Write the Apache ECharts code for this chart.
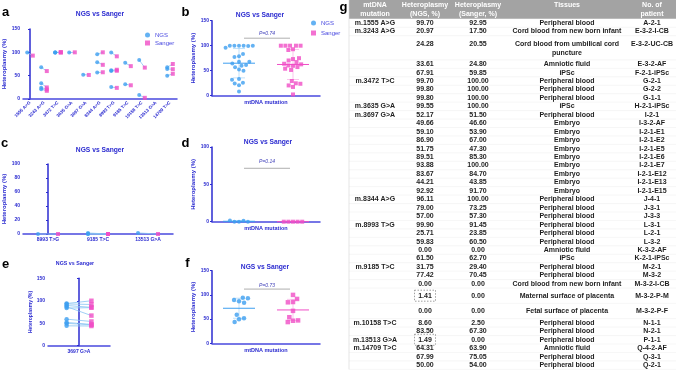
<!DOCTYPE html>
<html>
<head>
<meta charset="utf-8">
<script src="https://cdn.jsdelivr.net/npm/echarts@6/dist/echarts.min.js"></script>
<style>
html, body { margin: 0; padding: 0; background: #fff; }
#chart { width: 676px; height: 371px; }
</style>
</head>
<body>
<div id="chart"></div>
<script>
// ---- data ----
// panel a: paired NGS / Sanger per mutation
const mutationCats = ['1555 A>G', '3243 A>G', '3472 T>C', '3635 G>A', '3697 G>A', '8344 A>G',
  '8993 T>G', '9185 T>C', '10158 T>C', '13513 G>A', '14709 T>C'];
const ngsA = [[99.70], [20.97, 24.28, 33.61, 67.91], [99.70, 99.80, 99.80], [99.55], [52.17],
  [96.11, 79.00, 57.00], [99.90, 25.71, 59.83, 61.50], [31.75, 77.42], [8.60, 83.50], [],
  [64.31, 67.99, 50.00]];
const sangerA = [[92.95], [17.50, 20.55, 24.80, 59.85], [100, 100, 100], [100], [51.50],
  [100, 73.25, 57.30], [91.45, 23.85, 60.50, 62.70], [29.40, 70.45], [2.50, 67.30], [],
  [63.90, 75.05, 54.00]];

// panel c / d: low heteroplasmy samples
const lowCats = ['8993 T>G', '9185 T>C', '13513 G>A'];
const ngsC = [[0], [0, 1.41, 0], [1.49]];
const sangerC = [[0], [0, 0, 0], [0]];

// panel e / f: embryos of m.3697 G>A
const embryoCat = ['3697 G>A'];
const ngsE = [49.66, 59.10, 86.90, 51.75, 89.51, 93.88, 83.67, 44.21, 92.92];
const sangerE = [46.60, 53.90, 67.00, 47.30, 85.30, 100.00, 84.70, 43.85, 91.70];

const pB = 'P=0.74', pD = 'P=0.14', pF = 'P=0.73';

// panel g: table
const tblHeader = ['mtDNA\nmutation', 'Heteroplasmy\n(NGS, %)', 'Heteroplasmy\n(Sanger, %)', 'Tissues', 'No. of\npatient'];
const tblMutation = ['m.1555 A>G', 'm.3243 A>G', '', '', '', 'm.3472 T>C', '', '', 'm.3635 G>A', 'm.3697 G>A',
  '', '', '', '', '', '', '', '', '', 'm.8344 A>G', '', '', 'm.8993 T>G', '', '', '', '', 'm.9185 T>C',
  '', '', '', '', 'm.10158 T>C', '', 'm.13513 G>A', 'm.14709 T>C', '', ''];
const tblNGS = ['99.70', '20.97', '24.28', '33.61', '67.91', '99.70', '99.80', '99.80', '99.55', '52.17',
  '49.66', '59.10', '86.90', '51.75', '89.51', '93.88', '83.67', '44.21', '92.92', '96.11', '79.00', '57.00',
  '99.90', '25.71', '59.83', '0.00', '61.50', '31.75', '77.42', '0.00', '1.41', '0.00', '8.60', '83.50',
  '1.49', '64.31', '67.99', '50.00'];
const tblSanger = ['92.95', '17.50', '20.55', '24.80', '59.85', '100.00', '100.00', '100.00', '100.00', '51.50',
  '46.60', '53.90', '67.00', '47.30', '85.30', '100.00', '84.70', '43.85', '91.70', '100.00', '73.25', '57.30',
  '91.45', '23.85', '60.50', '0.00', '62.70', '29.40', '70.45', '0.00', '0.00', '0.00', '2.50', '67.30',
  '0.00', '63.90', '75.05', '54.00'];
const PB = 'Peripheral blood', EM = 'Embryo';
const tblTissue = [PB, 'Cord blood from new born infant', 'Cord blood from umbilical cord\npuncture',
  'Amniotic fluid', 'iPSc', PB, PB, PB, 'iPSc', PB, EM, EM, EM, EM, EM, EM, EM, EM, EM, PB, PB, PB,
  PB, PB, PB, 'Amniotic fluid', 'iPSc', PB, PB, 'Cord blood from new born infant',
  'Maternal surface of placenta', 'Fetal surface of placenta', PB, PB, PB, 'Amniotic fluid', PB, PB];
const tblPatient = ['A-2-1', 'E-3-2-I-CB', 'E-3-2-UC-CB', 'E-3-2-AF', 'F-2-1-iPSc', 'G-2-1', 'G-2-2', 'G-1-1',
  'H-2-1-iPSc', 'I-2-1', 'I-3-2-AF', 'I-2-1-E1', 'I-2-1-E2', 'I-2-1-E5', 'I-2-1-E6', 'I-2-1-E7', 'I-2-1-E12',
  'I-2-1-E13', 'I-2-1-E15', 'J-4-1', 'J-3-1', 'J-3-3', 'L-3-1', 'L-2-1', 'L-3-2', 'K-3-2-AF', 'K-2-1-iPSc',
  'M-2-1', 'M-3-2', 'M-3-2-I-CB', 'M-3-2-P-M', 'M-3-2-P-F', 'N-1-1', 'N-2-1', 'P-1-1', 'Q-4-2-AF', 'Q-3-1', 'Q-2-1'];

// ---- styles ----
const FONT = '"Liberation Sans", Arial, sans-serif';
const AX = '#2b2bd0';
const AX_X = '#4a4ade';
const NGS_C = '#3d9ff0';
const SAN_C = '#f04ec6';
const PAIR_C = '#88c4f2';
const OFF = 0.2; // offset of the two points inside a category band

const chart = echarts.init(document.getElementById('chart'), null, { renderer: 'canvas' });

const grids = [], xAxes = [], yAxes = [], series = [], graphics = [];

function addGrid(left, top, width, height) {
  grids.push({ left, top, width, height, containLabel: false });
  return grids.length - 1;
}

function yAxis(g, max, interval, nameGap, nameSize) {
  yAxes.push({
    type: 'value', gridIndex: g, min: 0, max, interval,
    name: 'Heteroplasmy (%)', nameLocation: 'middle', nameGap,
    nameTextStyle: { color: AX, fontWeight: 'bold', fontSize: nameSize, fontFamily: FONT },
    axisLine: { show: true, lineStyle: { color: AX, width: 1.5 } },
    axisTick: { show: true, length: 2, lineStyle: { color: AX, width: 1 } },
    splitLine: { show: false },
    axisLabel: { color: AX, fontSize: 5, fontWeight: 'bold', margin: 3, fontFamily: FONT }
  });
  return yAxes.length - 1;
}

function xCat(g, data, extra) {
  xAxes.push(Object.assign({
    type: 'category', gridIndex: g, data, boundaryGap: true, position: 'bottom',
    axisLine: { lineStyle: { color: AX_X, width: 1.5 } },
    axisTick: { alignWithLabel: true, length: 2, lineStyle: { color: AX_X, width: 1 } },
    axisLabel: { color: AX, fontSize: 5, fontWeight: 'bold', margin: 3, interval: 0, fontFamily: FONT },
    splitLine: { show: false }
  }, extra || {}));
  return xAxes.length - 1;
}

function xHiddenValue(g, n) {
  xAxes.push({ type: 'value', gridIndex: g, min: -0.5, max: n - 0.5, show: false });
  return xAxes.length - 1;
}

function xHiddenJitter(g, jitter) {
  xAxes.push({
    type: 'category', gridIndex: g, data: ['NGS', 'Sanger'], show: false,
    jitter, jitterOverlap: false, jitterMargin: 0.6
  });
  return xAxes.length - 1;
}

function pairItem(params, api) {
  const p0 = api.coord([api.value(0), api.value(1)]);
  const p1 = api.coord([api.value(2), api.value(3)]);
  return { type: 'line', shape: { x1: p0[0], y1: p0[1], x2: p1[0], y2: p1[1] },
    style: { stroke: PAIR_C, lineWidth: 0.8 } };
}

// paired panel: lines between NGS and Sanger, then the two point sets
function pairedPanel(g, xi, yi, ngs, san, size) {
  const pairs = [], ngsPts = [], sanPts = [];
  ngs.forEach((vals, i) => vals.forEach((v, j) => {
    pairs.push([i - OFF, v, i + OFF, san[i][j]]);
    ngsPts.push([i - OFF, v]);
    sanPts.push([i + OFF, san[i][j]]);
  }));
  series.push({ type: 'custom', name: 'pair', xAxisIndex: xi, yAxisIndex: yi, renderItem: pairItem,
    encode: { x: [0, 2], y: [1, 3] }, data: pairs, silent: true, z: 1 });
  series.push({ type: 'scatter', name: 'NGS', xAxisIndex: xi, yAxisIndex: yi, symbol: 'circle',
    symbolSize: size, itemStyle: { color: NGS_C }, data: ngsPts, z: 3 });
  series.push({ type: 'scatter', name: 'Sanger', xAxisIndex: xi, yAxisIndex: yi, symbol: 'rect',
    symbolSize: size, itemStyle: { color: SAN_C }, data: sanPts, z: 3 });
}

function meanSd(vals) {
  const m = vals.reduce((a, b) => a + b, 0) / vals.length;
  const s = Math.sqrt(vals.reduce((a, b) => a + (b - m) * (b - m), 0) / (vals.length - 1));
  return [m, s];
}

function meanSdItem(params, api) {
  const i = api.value(0), m = api.value(1), s = api.value(2);
  const c = api.coord([i, m]), t = api.coord([i, m + s]), b = api.coord([i, m - s]);
  const col = i === 0 ? NGS_C : SAN_C;
  const hw = 16, cw = 6;
  return { type: 'group', children: [
    { type: 'line', shape: { x1: c[0] - hw, y1: c[1], x2: c[0] + hw, y2: c[1] }, style: { stroke: col, lineWidth: 1 } },
    { type: 'line', shape: { x1: c[0], y1: t[1], x2: c[0], y2: b[1] }, style: { stroke: col, lineWidth: 0.6, opacity: 0.55 } },
    { type: 'line', shape: { x1: c[0] - cw, y1: t[1], x2: c[0] + cw, y2: t[1] }, style: { stroke: col, lineWidth: 0.6, opacity: 0.55 } },
    { type: 'line', shape: { x1: c[0] - cw, y1: b[1], x2: c[0] + cw, y2: b[1] }, style: { stroke: col, lineWidth: 0.6, opacity: 0.55 } }
  ] };
}

function sigRender(label) {
  return function (params, api) {
    const a = api.coord([0, api.value(0)]), b = api.coord([1, api.value(0)]);
    const t = api.coord([0, api.value(1)]);
    return { type: 'group', children: [
      { type: 'line', shape: { x1: a[0] + 5, y1: a[1], x2: b[0] - 3, y2: a[1] }, style: { stroke: '#9a9a9a', lineWidth: 0.8 } },
      { type: 'text', x: (a[0] + b[0]) / 2 + 1, y: t[1],
        style: { text: label, font: 'italic 5px ' + FONT, fill: '#3d3db8', align: 'center', verticalAlign: 'middle',
          textAlign: 'center', textVerticalAlign: 'middle' } }
    ] };
  };
}

// column panel: jittered points, mean +- SD, significance bar
function columnPanel(g, xi, yi, ngs, san, sigY, textY, label, size) {
  series.push({ type: 'scatter', name: 'NGS', xAxisIndex: xi, yAxisIndex: yi, symbol: 'circle',
    symbolSize: size, itemStyle: { color: NGS_C }, data: ngs.map(v => [0, v]), z: 3 });
  series.push({ type: 'scatter', name: 'Sanger', xAxisIndex: xi, yAxisIndex: yi, symbol: 'rect',
    symbolSize: size, itemStyle: { color: SAN_C }, data: san.map(v => [1, v]), z: 3 });
  series.push({ type: 'custom', name: 'meanSd', xAxisIndex: xi, yAxisIndex: yi, renderItem: meanSdItem,
    data: [[0].concat(meanSd(ngs)), [1].concat(meanSd(san))], silent: true, z: 2 });
  series.push({ type: 'custom', name: 'sig', xAxisIndex: xi, yAxisIndex: yi, renderItem: sigRender(label),
    encode: { y: [0, 1] }, data: [[sigY, textY]], silent: true, z: 2 });
}

// ---- panel a ----
{
  const g = addGrid(23, 29, 154, 70);
  xCat(g, mutationCats, { axisLabel: { color: AX, fontSize: 4.5, fontWeight: 'bold', margin: 3, interval: 0, rotate: 45, fontFamily: FONT } });
  const xi = xHiddenValue(g, mutationCats.length);
  const yi = yAxis(g, 150, 50, 12, 6);
  pairedPanel(g, xi, yi, ngsA, sangerA, 4);
}
// ---- panel b ----
{
  const g = addGrid(212, 20.7, 108, 75);
  xCat(g, ['mtDNA mutation'], { axisLabel: { color: AX, fontSize: 5.5, fontWeight: 'bold', margin: 4, fontFamily: FONT } });
  const xi = xHiddenJitter(g, 34);
  const yi = yAxis(g, 150, 50, 15, 6);
  columnPanel(g, xi, yi, ngsA.flat(), sangerA.flat(), 115, 125, pB, 4);
}
// ---- panel c ----
{
  const g = addGrid(23, 164, 150, 70);
  xCat(g, lowCats);
  const xi = xHiddenValue(g, lowCats.length);
  const yi = yAxis(g, 100, 20, 12, 6);
  pairedPanel(g, xi, yi, ngsC, sangerC, 4);
}
// ---- panel d ----
{
  const g = addGrid(212, 147, 108, 74.7);
  xCat(g, ['mtDNA mutation'], { axisLabel: { color: AX, fontSize: 5.5, fontWeight: 'bold', margin: 4, fontFamily: FONT } });
  const xi = xHiddenJitter(g, 30);
  const yi = yAxis(g, 100, 50, 15, 6);
  columnPanel(g, xi, yi, ngsC.flat(), sangerC.flat(), 71.5, 80, pD, 4);
}
// ---- panel e ----
{
  const g = addGrid(48, 278.3, 62, 67.4);
  xCat(g, embryoCat);
  const xi = xHiddenValue(g, embryoCat.length);
  const yi = yAxis(g, 150, 50, 12, 5);
  pairedPanel(g, xi, yi, [ngsE], [sangerE], 4.5);
}
// ---- panel f ----
{
  const g = addGrid(212, 270.7, 108, 72.6);
  xCat(g, ['mtDNA mutation'], { axisLabel: { color: AX, fontSize: 5.5, fontWeight: 'bold', margin: 4, fontFamily: FONT } });
  const xi = xHiddenJitter(g, 26);
  const yi = yAxis(g, 150, 50, 15, 6);
  columnPanel(g, xi, yi, ngsE, sangerE, 112, 120, pF, 4.5);
}

// ---- titles and panel letters ----
function txt(x, y, text, font, fill, align) {
  graphics.push({ type: 'text', x, y, silent: true,
    style: { text, font, fill, align: align || 'center', verticalAlign: 'middle',
      textAlign: align || 'center', textVerticalAlign: 'middle' } });
}
const titleFont = 'bold 6.7px ' + FONT;
txt(100, 14.3, 'NGS vs Sanger', titleFont, AX);
txt(260, 15, 'NGS vs Sanger', titleFont, AX);
txt(100, 150, 'NGS vs Sanger', titleFont, AX);
txt(268, 141.7, 'NGS vs Sanger', titleFont, AX);
txt(75, 264, 'NGS vs Sanger', 'bold 5.3px ' + FONT, AX);
txt(265, 266.7, 'NGS vs Sanger', titleFont, AX);

const letterFont = 'bold 13px ' + FONT;
[['a', 5.5, 12.7], ['b', 185.5, 12.7], ['c', 4.5, 143.7], ['d', 185.5, 143.7],
 ['e', 5.5, 264.7], ['f', 187.5, 263.7], ['g', 343.5, 7.7]].forEach(l => txt(l[1], l[2], l[0], letterFont, '#000'));

// ---- table g ----
{
  const TL = 349, TR = 676, HEAD_H = 18.8, ROW_H = 8.45, LINE_H = 9;
  const colX = [375, 425, 478, 567, 652];
  const tallRows = { 2: 24.2, 30: 15.3, 31: 15.3 };
  const boxed = [30, 34];
  const bodyFont = 'bold 7px ' + FONT;
  graphics.push({ type: 'rect', silent: true, shape: { x: TL, y: 0, width: TR - TL, height: HEAD_H }, style: { fill: '#a3a3a3' } });
  tblHeader.forEach((h, c) => graphics.push({ type: 'text', x: colX[c], y: 0.6, silent: true,
    style: { text: h, font: 'bold 7px ' + FONT, fill: '#ffffff', align: 'center', verticalAlign: 'top',
      textAlign: 'center', textVerticalAlign: 'top', lineHeight: LINE_H } }));
  let y = HEAD_H;
  const cols = [tblMutation, tblNGS, tblSanger, tblTissue, tblPatient];
  for (let i = 0; i < tblNGS.length; i++) {
    const h = tallRows[i] || ROW_H;
    const twoLine = tblTissue[i].indexOf('\n') >= 0;
    const ty = twoLine ? y + 4.1 : y + h / 2 - LINE_H / 2;
    cols.forEach((col, c) => {
      if (!col[i]) return;
      graphics.push({ type: 'text', x: colX[c], y: ty, silent: true,
        style: { text: col[i], font: bodyFont, fill: '#1e1e1e', align: 'center', verticalAlign: 'top',
          textAlign: 'center', textVerticalAlign: 'top', lineHeight: LINE_H } });
    });
    if (boxed.indexOf(i) >= 0) {
      graphics.push({ type: 'rect', silent: true, shape: { x: colX[1] - 10.5, y: ty - 1, width: 21, height: LINE_H + 2 },
        style: { fill: 'none', stroke: '#777', lineWidth: 0.7, lineDash: [1.5, 1.5] } });
    }
    y += h;
    graphics.push({ type: 'line', silent: true, shape: { x1: TL, y1: y, x2: TR, y2: y },
      style: { stroke: '#ececec', lineWidth: 0.5 } });
  }
  graphics.push({ type: 'line', silent: true, shape: { x1: TL, y1: 0, x2: TL, y2: y },
    style: { stroke: '#d4d4d4', lineWidth: 0.6 } });
}

const legendBase = {
  orient: 'vertical', itemWidth: 5, itemHeight: 5, selectedMode: false,
  textStyle: { fontSize: 6, color: '#4848e0', fontFamily: FONT },
  data: [{ name: 'NGS', icon: 'circle' }, { name: 'Sanger', icon: 'rect' }]
};

chart.setOption({
  animation: false,
  backgroundColor: '#fff',
  legend: [
    Object.assign({}, legendBase, { left: 140, top: 27, itemGap: 2 }),
    Object.assign({}, legendBase, { left: 306, top: 15, itemGap: 4 })
  ],
  grid: grids,
  xAxis: xAxes,
  yAxis: yAxes,
  series,
  graphic: graphics
});
</script>
</body>
</html>
